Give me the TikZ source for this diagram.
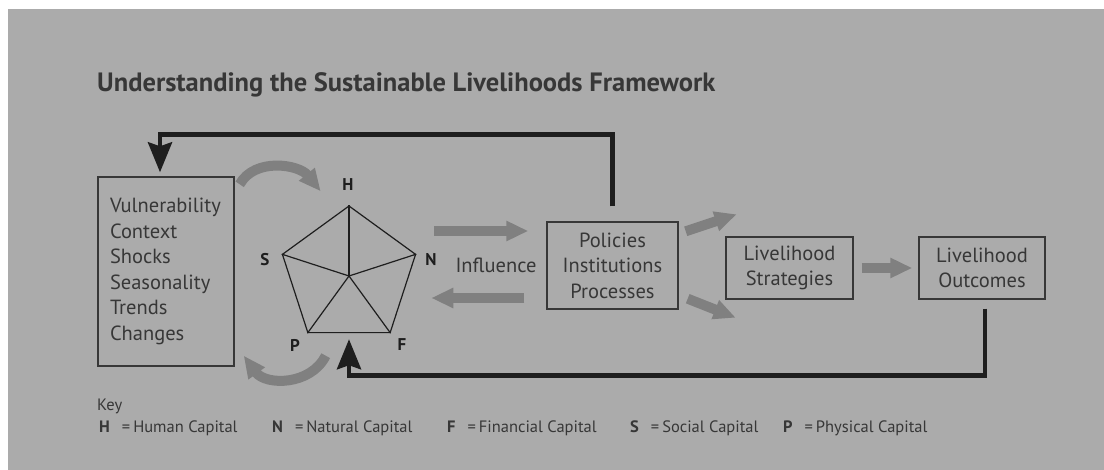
\documentclass[tikz,border=0pt]{standalone}
\usepackage{fontspec}
\setmainfont{PT Sans}
\usetikzlibrary{arrows.meta,calc,shapes.geometric}
\definecolor{PageGray}{RGB}{171,171,171}
\definecolor{InkDark}{RGB}{55,55,55}
\definecolor{InkBlack}{RGB}{30,30,30}
\definecolor{FlowGray}{RGB}{128,128,128}

\begin{document}
\begin{tikzpicture}[x=1pt,y=-1pt,
    declare function={capr=70;},
    box/.style args={#1 by #2}{%
            draw=InkDark,line width=1.4pt,text=InkDark,
            align=center,inner sep=0pt,
            font=\fontsize{20.5}{25.5}\selectfont,
            minimum width=#1,minimum height=#2},
    cap label/.style={text=InkBlack,inner sep=0pt,
            font=\bfseries\fontsize{17}{17}\selectfont},
    key item/.style={anchor=base west,inner sep=0pt,text=InkDark,
            font=\fontsize{16.5}{16.5}\selectfont},
    feedback/.style={draw=InkBlack,line width=4.5pt,
            -{Stealth[width=24pt,length=30pt,inset=4pt]}},
    flow/.style={draw=FlowGray,line width=10pt,
            -{Triangle[width=19pt,length=22pt]}}]
    \useasboundingbox (0,0) rectangle (1104,470);
    \fill[white] (0,0) rectangle (1104,470);
    \fill[PageGray] (8,9) rectangle (1104,470);

    \node[anchor=base west,inner sep=0pt,text=InkDark,
        font=\bfseries\fontsize{26.5}{30}\selectfont] (title) at (97,92)
        {Understanding the Sustainable Livelihoods Framework};

    \node[box={136pt by 189pt},align=left,text width=112pt] (vul) at (166,271.5)
        {Vulnerability\\Context\\Shocks\\Seasonality\\Trends\\Changes};
    \node[regular polygon,regular polygon sides=5,minimum size=2*capr,
        inner sep=0pt,draw=InkBlack,line width=1.2pt] (cap) at (349,276) {};
    \foreach \i in {1,...,5}
        \draw[InkBlack,line width=1.2pt] (cap.center) -- (cap.corner \i);
    \foreach \l/\x/\y in {H/348/185,S/265/260,N/431/260,P/295/345,F/402/345}
        \node[cap label] (l\l) at (\x,\y) {\l};

    \node[text=InkDark,inner sep=0pt,font=\fontsize{20.5}{20.5}\selectfont]
        (infl) at (496,265) {Influence};
    \node[box={131pt by 87pt}] (pol) at (612.5,265.5) {Policies\\Institutions\\Processes};
    \node[box={127pt by 62pt}] (str) at (789.5,268) {Livelihood\\Strategies};
    \node[box={126pt by 62pt}] (out) at (982,268) {Livelihood\\Outcomes};

    \draw[flow] ($(vul.north east)+(5,8)$) .. controls +(15,-27) and +(-22,-27)
        .. ($(vul.north east)+(86,15)$);
    \draw[flow] ($(vul.south east)+(91,-11)$) .. controls +(-15,30) and +(22,30)
        .. ($(vul.south east)+(9,-11)$);
    \draw[flow] ($(pol.west)+(-112,-34.5)$) -- ($(pol.west)+(-18,-34.5)$);
    \draw[flow] ($(pol.west)+(-22,32.5)$) -- ($(pol.west)+(-115,32.5)$);
    \draw[flow] ($(pol.north east)+(7,10)$) -- ($(pol.north east)+(58,-7)$);
    \draw[flow] ($(pol.south east)+(9,-11)$) -- ($(pol.south east)+(57,8)$);
    \draw[flow] ($(str.east)+(8,0)$) -- ($(out.west)+(-6,0)$);

    \draw[feedback] ($(pol.north)+(0,-15)$) -- ++(0,-72) -| ($(vul.north)+(-6,-4)$);
    \draw[feedback] ($(out.south)+(3,9)$) -- ++(0,67)
        -| ($(cap.corner 3)!0.5!(cap.corner 4)+(0,6)$);

    \node[key item] (key) at (97,411) {Key};
    \foreach \l/\t/\x in {H/Human/99,N/Natural/272,F/Financial/447,
        S/Social/630,P/Physical/783}
        \node[key item] (k\l) at (\x,432)
            {\textbf{\l}\hspace{12pt}=\hspace{3pt}\t\ Capital};
\end{tikzpicture}
\end{document}
